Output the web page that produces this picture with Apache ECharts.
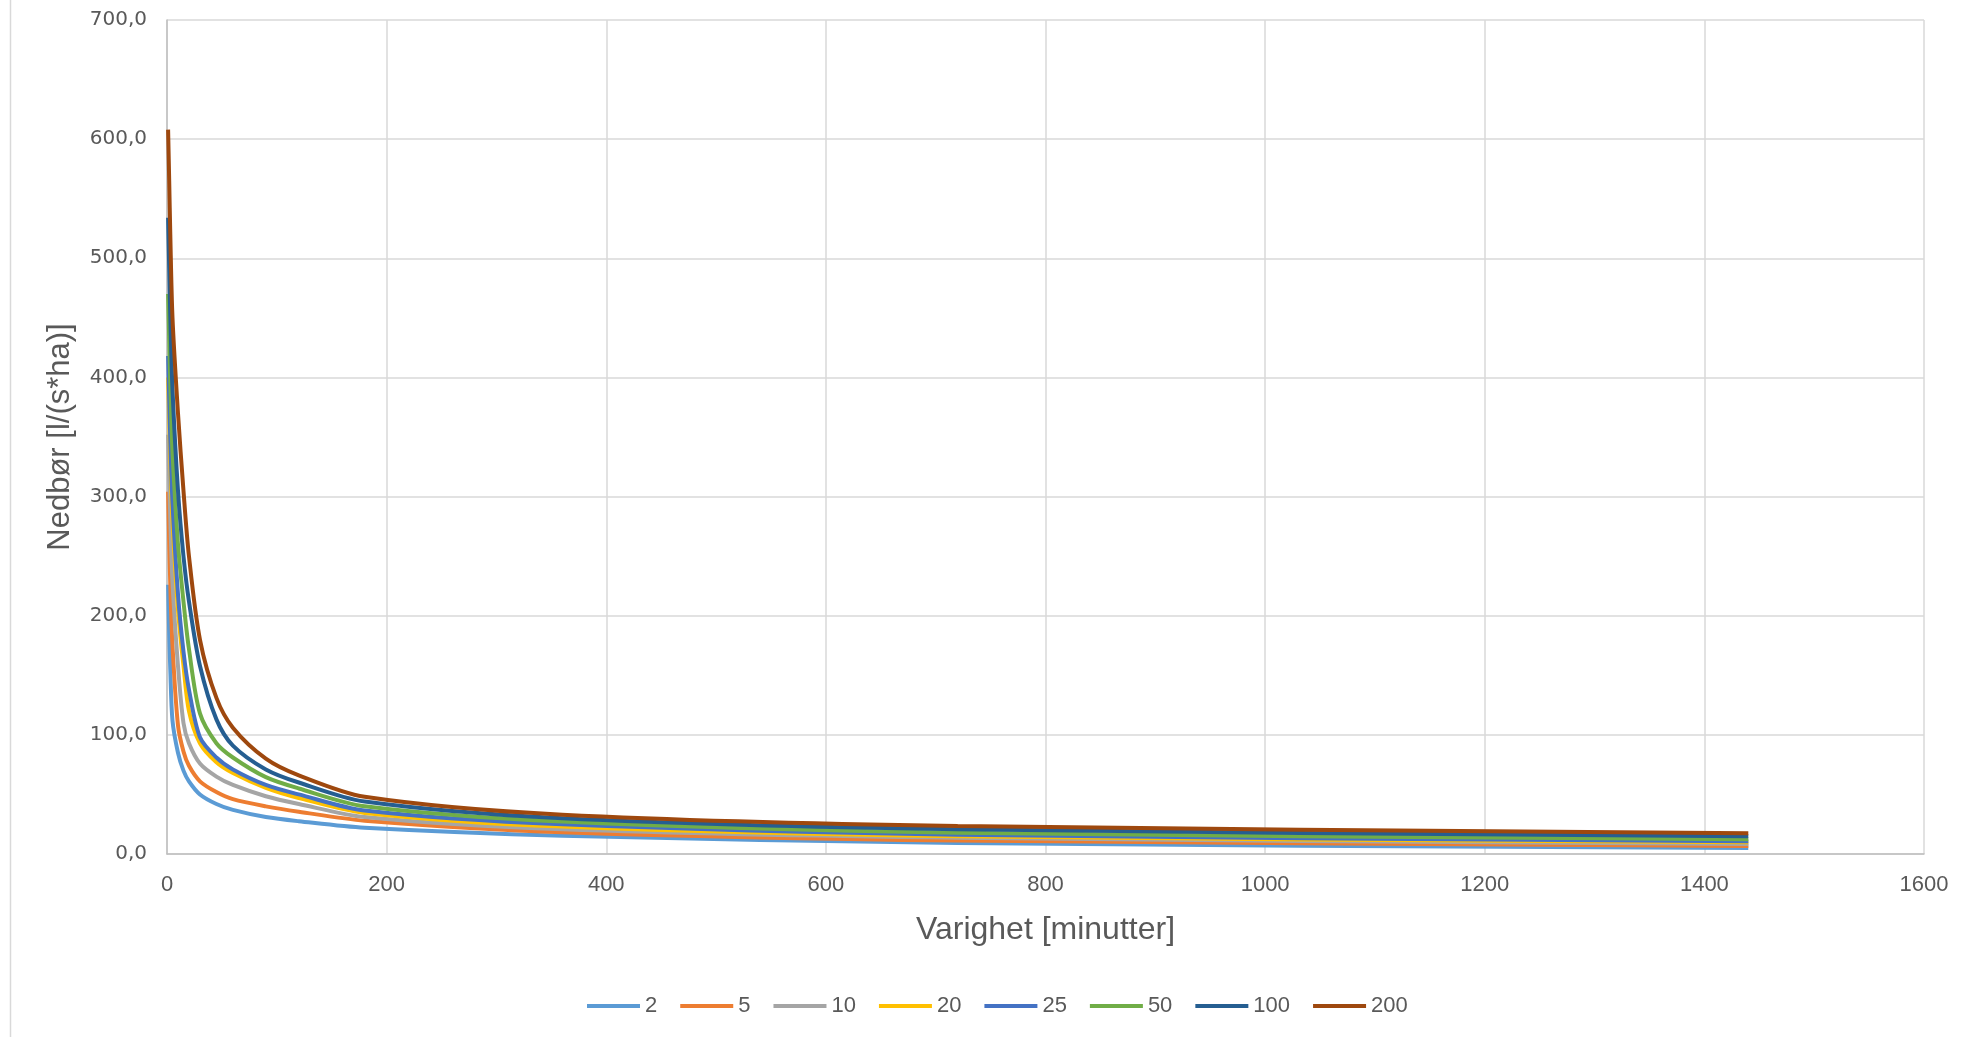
<!DOCTYPE html>
<html>
<head>
<meta charset="utf-8">
<script src="https://cdn.jsdelivr.net/npm/echarts@6/dist/echarts.min.js"></script>
<style>
  html, body { margin: 0; padding: 0; background: #fff; }
  #main { width: 1973px; height: 1037px; }
</style>
</head>
<body>
<div id="main"></div>
<script>
// varighet i minutter
var durations = [1, 2, 3, 5, 10, 15, 20, 30, 45, 60, 90, 120, 180, 360, 720, 1440]

// nedbørintensitet l/(s*ha) per gjentaksintervall
var rp2   = [226, 185, 155, 112, 85, 70, 61, 50, 42, 37, 31, 27.5, 22, 15.4, 9.2, 5]
var rp5   = [304, 262, 226, 175, 108, 86, 74, 61, 52, 46, 40, 35.5, 28, 18.3, 11.3, 6.8]
var rp10  = [352, 315, 282, 228, 158, 110, 93, 76, 65, 58, 48.5, 42, 31, 20.7, 13.6, 8.4]
var rp20  = [400, 365, 332, 280, 205, 158, 120, 93, 77, 68, 55.5, 47, 34.5, 23, 14.8, 9.9]
var rp25  = [418, 382, 348, 295, 218, 170, 138, 98, 81, 71, 58, 50, 36.5, 24.9, 16.2, 10.7]
var rp50  = [470, 432, 395, 338, 260, 212, 172, 118, 93, 81, 64.5, 55, 40, 27.2, 17.9, 12.4]
var rp100 = [534, 492, 452, 390, 305, 250, 212, 158, 113, 91, 71, 60, 44, 30, 20.7, 14.8]
var rp200 = [608, 565, 520, 450, 370, 305, 250, 180, 131, 106, 80, 66, 48, 33, 23.5, 17.5]

var names = ['2', '5', '10', '20', '25', '50', '100', '200']
var values = [rp2, rp5, rp10, rp20, rp25, rp50, rp100, rp200]
var colors = ['#5B9BD5', '#ED7D31', '#A5A5A5', '#FFC000', '#4472C4', '#70AD47', '#255E91', '#9E480E']

var chart = echarts.init(document.getElementById('main'), null, { renderer: 'canvas' })

var series = names.map(function (n, i) {
  return {
    name: n,
    type: 'line',
    data: durations.map(function (d, k) { return [d, values[i][k]] }),
    showSymbol: false,
    smooth: 0.3,
    lineStyle: { width: 4, color: colors[i] },
    itemStyle: { color: colors[i] },
    animation: false,
  }
})

var option = {
  backgroundColor: '#fff',
  color: colors,
  grid: { left: 167, right: 49, top: 20, bottom: 183, containLabel: false },
  legend: {
    data: names,
    left: 582,
    top: 990,
    itemWidth: 53,
    itemHeight: 4,
    itemGap: 23,
    icon: 'rect',
    textStyle: { color: '#595959', fontSize: 22, fontFamily: 'Liberation Sans' },
  },
  xAxis: {
    type: 'value',
    min: 0,
    max: 1600,
    interval: 200,
    name: 'Varighet [minutter]',
    nameLocation: 'middle',
    nameGap: 60,
    nameTextStyle: { color: '#595959', fontSize: 32, fontFamily: 'Liberation Sans' },
    axisLine: { show: true, lineStyle: { color: '#bfbfbf', width: 1.5 } },
    axisTick: { show: false },
    axisLabel: {
      color: '#595959',
      fontSize: 22,
      fontFamily: 'Liberation Sans',
      margin: 20,
      formatter: function (v) { return String(v) },
    },
    splitLine: { show: true, lineStyle: { color: '#d9d9d9', width: 1.5 } },
  },
  yAxis: {
    type: 'value',
    min: 0,
    max: 700,
    interval: 100,
    name: 'Nedbør [l/(s*ha)]',
    nameLocation: 'middle',
    nameGap: 91,
    nameTextStyle: { color: '#595959', fontSize: 31, fontFamily: 'Liberation Sans' },
    axisLine: { show: true, lineStyle: { color: '#bfbfbf', width: 1.5 } },
    axisTick: { show: false },
    axisLabel: {
      color: '#595959',
      fontSize: 20,
      fontFamily: 'DejaVu Sans',
      margin: 20,
      formatter: function (v) { return v.toFixed(1).replace('.', ',') },
    },
    splitLine: { show: true, lineStyle: { color: '#d9d9d9', width: 1.5 } },
  },
  graphic: [
    {
      type: 'line',
      shape: { x1: 10.5, y1: 0, x2: 10.5, y2: 1037 },
      style: { stroke: '#d9d9d9', lineWidth: 1.5 },
      silent: true,
    },
  ],
  series: series,
}

chart.setOption(option)
</script>
</body>
</html>
